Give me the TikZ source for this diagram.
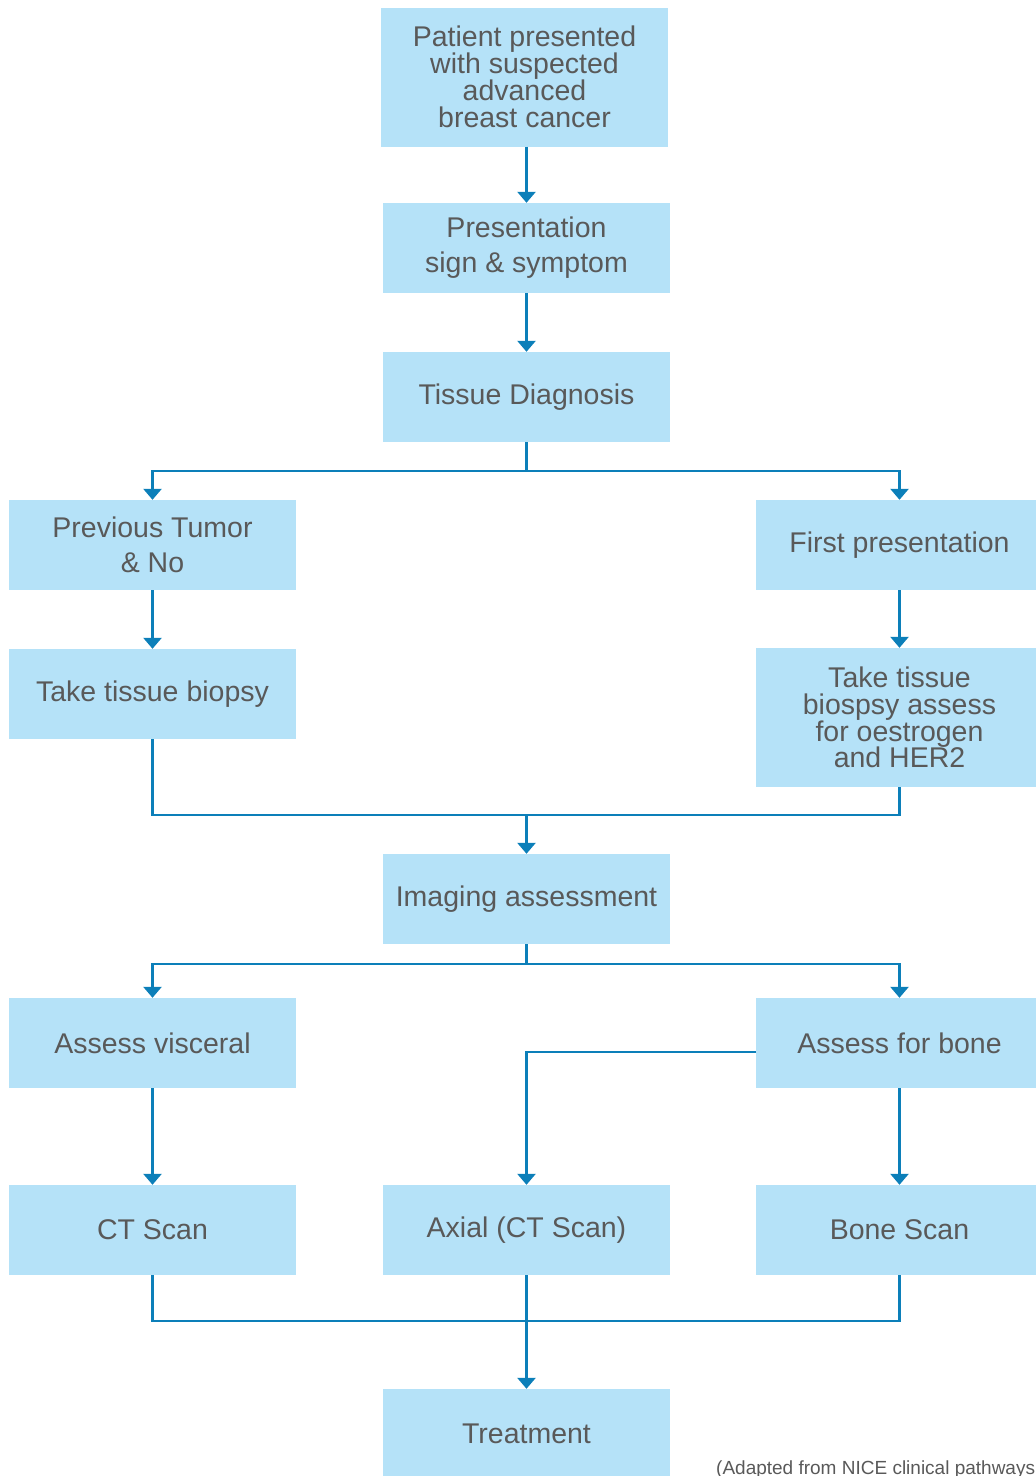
\documentclass[tikz,border=0pt]{standalone}
\usepackage{fontspec}
\setmainfont{Liberation Sans}
\usetikzlibrary{arrows.meta}
\definecolor{boxblue}{HTML}{B5E2F8}
\definecolor{flowblue}{HTML}{0C7FB9}
\definecolor{textgray}{HTML}{595959}
\begin{document}
\begin{tikzpicture}[x=1pt,y=-1pt,
    box/.style={fill=boxblue, minimum width=287pt, minimum height=90pt, inner sep=0pt,
        align=center, text=textgray, font=\fontsize{28.5}{35}\selectfont},
    tallbox/.style={box, minimum height=139pt, font=\fontsize{28.5}{26.8}\selectfont},
    line/.style={draw=flowblue, line width=2.6pt},
    arr/.style={line, -{Triangle[width=18pt,length=11pt]}}]
    \useasboundingbox (0,0) rectangle (1036,1476);
    \node[tallbox] (patient) at (524.5,77) {Patient presented\\with suspected\\advanced\\breast cancer};
    \node[box] (present) at (526.5,248) {Presentation\\sign \& symptom};
    \node[box] (tissue) at (526.5,397) {Tissue Diagnosis};
    \node[box] (previous) at (152.5,545) {Previous Tumor\\\& No};
    \node[box] (first) at (899.5,545) {First presentation};
    \node[box] (biopsy) at (152.5,694) {Take tissue biopsy};
    \node[tallbox] (hertwo) at (899.5,717.5) {Take tissue\\biospsy assess\\for oestrogen\\and HER2};
    \node[box] (imaging) at (526.5,899) {Imaging assessment};
    \node[box] (visceral) at (152.5,1043) {Assess visceral};
    \node[box] (bone) at (899.5,1043) {Assess for bone};
    \node[box] (ctscan) at (152.5,1230) {CT Scan};
    \node[box] (axial) at (526.5,1230) {Axial (CT Scan)};
    \node[box] (bonescan) at (899.5,1230) {Bone Scan};
    \node[box] (treat) at (526.5,1434) {Treatment};
    \node[anchor=base west, text=textgray, font=\fontsize{19}{22}\selectfont, inner sep=0pt]
        (source) at (716,1474) {(Adapted from NICE clinical pathways};
    \coordinate (split1) at (526.5,471);
    \coordinate (join1) at (526.5,815);
    \coordinate (split2) at (526.5,964);
    \coordinate (bonetap) at (756,1052);
    \coordinate (join2) at (526.5,1321);
    \draw[arr] (patient.south -| present.north) -- (present.north);
    \draw[arr] (present) -- (tissue);
    \draw[line] (tissue) -- (split1);
    \draw[arr] (split1) -| (previous.north);
    \draw[arr] (split1) -| (first.north);
    \draw[arr] (previous) -- (biopsy);
    \draw[arr] (first) -- (hertwo);
    \draw[line] (biopsy.south) |- (join1);
    \draw[line] (hertwo.south) |- (join1);
    \draw[arr] (join1) -- (imaging.north);
    \draw[line] (imaging) -- (split2);
    \draw[arr] (split2) -| (visceral.north);
    \draw[arr] (split2) -| (bone.north);
    \draw[arr] (visceral) -- (ctscan);
    \draw[arr] (bone) -- (bonescan);
    \draw[arr] (bonetap) -| (axial.north);
    \draw[line] (ctscan.south) |- (join2);
    \draw[line] (bonescan.south) |- (join2);
    \draw[arr] (axial) -- (treat);
\end{tikzpicture}
\end{document}
